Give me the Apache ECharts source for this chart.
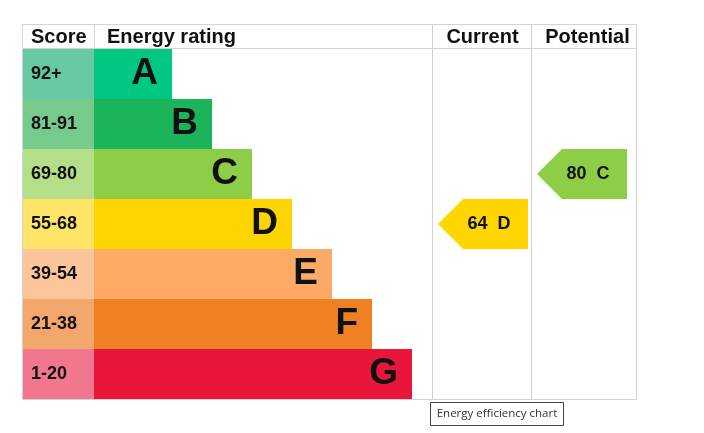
<!DOCTYPE html>
<html>
<head>
<meta charset="utf-8">
<script src="https://cdn.jsdelivr.net/npm/echarts@6/dist/echarts.min.js"></script>
<style>
html,body{margin:0;padding:0;background:#fff;}
#chart{width:704px;height:433px;}
</style>
</head>
<body>
<div id="chart"></div>
<script>
// ---- data ----
const ratings = ['A', 'B', 'C', 'D', 'E', 'F', 'G'];
const scoreRanges = ['92+', '81-91', '69-80', '55-68', '39-54', '21-38', '1-20'];
const bandMins = [92, 81, 69, 55, 39, 21, 1];
const currentScore = 64;
const potentialScore = 80;
const headers = ['Score', 'Energy rating', 'Current', 'Potential'];
const caption = 'Energy efficiency chart';

// ---- styles / layout ----
const barColors = ['#00c781', '#1bb45a', '#8dce46', '#ffd500', '#fcaa65', '#ef8023', '#e9153b'];
const cellColors = ['#67c8a2', '#75ca8c', '#b4df89', '#ffe467', '#fdc59a', '#f3a76d', '#f0778d'];
const FONT = '"Liberation Sans", Arial, sans-serif';
const G = { left: 22, top: 49, right: 636, bottom: 399, headTop: 24 };
const scoreW = 72;            // width of score column
const barBase = 78, barStep = 40; // rating bar widths grow by a fixed step per band
const colCurrent = [432, 531], colPotential = [531, 636];
const lineColor = '#d3d3d3';

function bandOf(v) {
  for (let i = 0; i < bandMins.length; i++) if (v >= bandMins[i]) return i;
  return bandMins.length - 1;
}

const chart = echarts.init(document.getElementById('chart'));
const W = G.right - G.left;

const option = {
  animation: false,
  grid: { left: G.left, top: G.top, width: W, height: G.bottom - G.top, show: false },
  xAxis: { type: 'value', min: 0, max: W, show: false },
  yAxis: { type: 'category', inverse: true, data: ratings, show: false },
  series: [
    {
      type: 'bar', stack: 's', barCategoryGap: '0%', silent: true,
      data: ratings.map((r, i) => ({ value: scoreW, itemStyle: { color: cellColors[i] } })),
      label: {
        show: true, position: 'insideLeft', distance: 9,
        formatter: p => scoreRanges[p.dataIndex],
        fontFamily: FONT, fontWeight: 'bold', fontSize: 18, color: '#111'
      }
    },
    {
      type: 'bar', stack: 's', barCategoryGap: '0%', silent: true,
      data: ratings.map((r, i) => ({ value: barBase + barStep * i, itemStyle: { color: barColors[i] } })),
      label: {
        show: true, position: 'insideRight', distance: 14,
        formatter: p => ratings[p.dataIndex],
        fontFamily: FONT, fontWeight: 'bold', fontSize: 37, color: '#111'
      }
    },
    {
      type: 'custom', silent: true,
      data: [[0, currentScore], [1, potentialScore]],
      renderItem: function (params, api) {
        const col = api.value(0) === 0 ? colCurrent : colPotential;
        const v = api.value(1);
        const b = bandOf(v);
        const cy = api.coord([0, b])[1];
        const h = api.size([0, 1])[1];
        const x0 = api.coord([col[0] - G.left, b])[0] + 6;
        const x1 = x0 + 90;
        const tip = 25;
        const top = cy - h / 2, bot = cy + h / 2;
        return {
          type: 'group',
          children: [
            {
              type: 'polygon',
              shape: { points: [[x0, cy], [x0 + tip, top], [x1, top], [x1, bot], [x0 + tip, bot]] },
              style: { fill: barColors[b] }
            },
            {
              type: 'text',
              style: {
                x: x0 + 51, y: cy, text: v + '  ' + ratings[b],
                align: 'center', verticalAlign: 'middle',
                font: 'bold 18px ' + FONT, fill: '#111'
              }
            }
          ]
        };
      }
    }
  ],
  graphic: [
    // table frame
    { type: 'rect', shape: { x: G.left + 0.5, y: G.headTop + 0.5, width: W, height: G.bottom - G.headTop }, style: { fill: 'none', stroke: lineColor, lineWidth: 1 }, z: 10 },
    { type: 'line', shape: { x1: G.left, y1: 48.5, x2: G.right, y2: 48.5 }, style: { stroke: lineColor, lineWidth: 1 }, z: 10 },
    { type: 'line', shape: { x1: 94.5, y1: G.headTop, x2: 94.5, y2: 48 }, style: { stroke: lineColor, lineWidth: 1 }, z: 10 },
    { type: 'line', shape: { x1: colCurrent[0] + 0.5, y1: G.headTop, x2: colCurrent[0] + 0.5, y2: G.bottom }, style: { stroke: lineColor, lineWidth: 1 }, z: 10 },
    { type: 'line', shape: { x1: colPotential[0] + 0.5, y1: G.headTop, x2: colPotential[0] + 0.5, y2: G.bottom }, style: { stroke: lineColor, lineWidth: 1 }, z: 10 },
    // headers
    { type: 'text', style: { x: 31, y: 37, text: headers[0], font: 'bold 20px ' + FONT, fill: '#111', verticalAlign: 'middle' } },
    { type: 'text', style: { x: 107, y: 37, text: headers[1], font: 'bold 20px ' + FONT, fill: '#111', verticalAlign: 'middle' } },
    { type: 'text', style: { x: (colCurrent[0] + colCurrent[1]) / 2 + 1, y: 37, text: headers[2], font: 'bold 20px ' + FONT, fill: '#111', align: 'center', verticalAlign: 'middle' } },
    { type: 'text', style: { x: (colPotential[0] + colPotential[1]) / 2 + 4, y: 37, text: headers[3], font: 'bold 20px ' + FONT, fill: '#111', align: 'center', verticalAlign: 'middle' } },
    // caption box
    { type: 'rect', shape: { x: 430.5, y: 402.5, width: 133, height: 23 }, style: { fill: '#fff', stroke: '#444', lineWidth: 1 }, z: 10 },
    { type: 'text', style: { x: 497, y: 414, text: caption, font: '11.5px "Open Sans", "DejaVu Sans", sans-serif', fill: '#333', align: 'center', verticalAlign: 'middle' }, z: 11 }
  ]
};
chart.setOption(option);
</script>
</body>
</html>
